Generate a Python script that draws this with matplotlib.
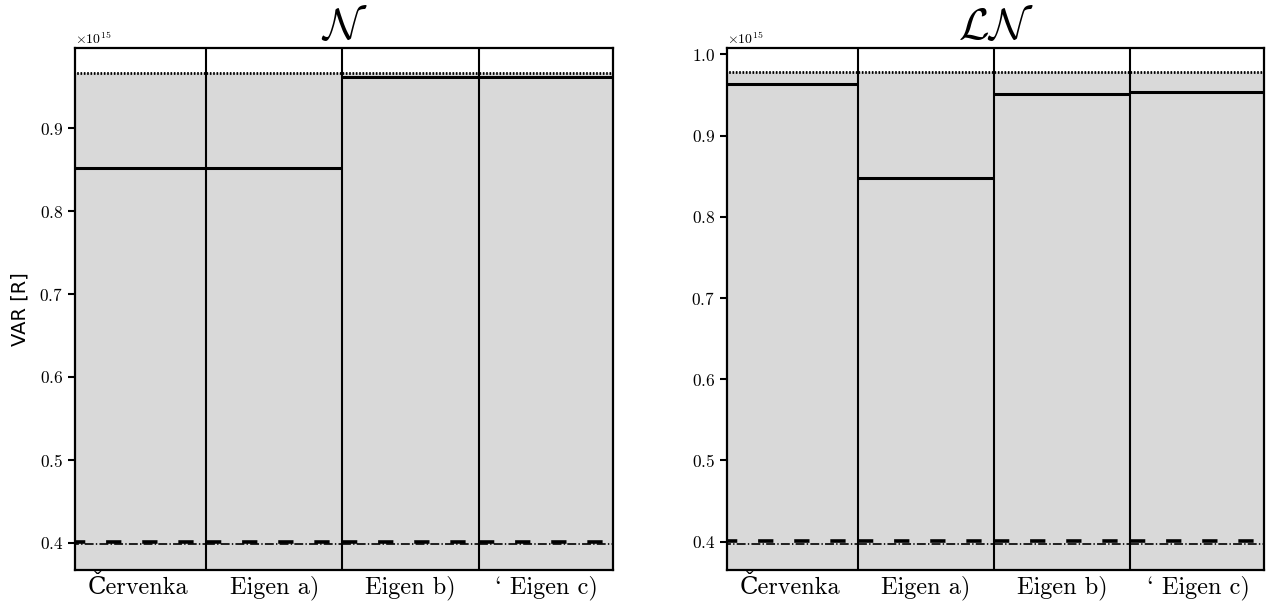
import numpy as np
import matplotlib
matplotlib.use("Agg")
import matplotlib.pyplot as plt
from matplotlib.ticker import MultipleLocator, ScalarFormatter

plt.rcParams['font.family'] = ['cmr10', 'DejaVu Serif']
plt.rcParams['mathtext.fontset'] = 'cm'
plt.rcParams['axes.formatter.use_mathtext'] = True
plt.rcParams['lines.scale_dashes'] = False

methods = ["Červenka", "Eigen a)", "Eigen b)", "` Eigen c)"]
scale = 1e15

# VAR estimates per method, and the bounds for each distribution
var_normal = [0.852, 0.852, 0.962, 0.962]
var_lognormal = [0.963, 0.848, 0.951, 0.953]
upper_normal = 0.967
upper_lognormal = 0.978
lower_normal = [0.4005, 0.3983]
lower_lognormal = [0.4006, 0.3977]

panels = [
    (r"$\mathcal{N}$", var_normal, upper_normal, lower_normal, (0.367, 0.9969)),
    (r"$\mathcal{LN}$", var_lognormal, upper_lognormal, lower_lognormal, (0.3652, 1.0078)),
]

fig = plt.figure(figsize=(12.66, 6.01), dpi=100)
ax_pos = [[0.0592, 0.0516, 0.4250, 0.8686],
          [0.5743, 0.0516, 0.4242, 0.8686]]

x = np.arange(len(methods))
for k, (title, vals, upper, lower, ylim) in enumerate(panels):
    ax = fig.add_axes(ax_pos[k])
    ax.bar(x, upper * scale, width=1.0, color='#d9d9d9', edgecolor='none', zorder=1)
    for i, v in enumerate(vals):
        ax.hlines(v * scale, i - 0.5, i + 0.5, color='black', lw=2.2, zorder=3)
        ax.hlines(upper * scale, i - 0.5, i + 0.5, color='black', lw=2.0,
                  linestyles=(0, (1.2, 1.2)), zorder=3)
        ax.hlines(lower[0] * scale, i - 0.5, i + 0.5, color='black', lw=2.6,
                  linestyles=(0, (11, 15)), zorder=3)
        ax.hlines(lower[1] * scale, i - 0.5, i + 0.5, color='black', lw=1.2,
                  linestyles='-.', zorder=3)
    for b in x[:-1] + 0.5:
        ax.axvline(b, color='black', lw=1.5, zorder=4)
    ax.set_xlim(-0.463, 3.485)
    ax.set_ylim(ylim[0] * scale, ylim[1] * scale)
    ax.yaxis.set_major_locator(MultipleLocator(0.1 * scale))
    fmt = ScalarFormatter(useMathText=True)
    fmt.set_powerlimits((15, 15))
    ax.yaxis.set_major_formatter(fmt)
    ax.set_xticks(x)
    ax.set_xticklabels(methods, fontsize=17.5)
    ax.tick_params(axis='x', length=0, pad=4)
    ax.tick_params(axis='y', length=5, width=1.5, labelsize=12.5)
    ax.yaxis.get_offset_text().set_fontsize(10)
    for s in ax.spines.values():
        s.set_linewidth(1.6)
    ax.set_title(title, fontsize=32, pad=0)
    if k == 0:
        ax.set_ylabel("VAR [R]", fontsize=14, family='DejaVu Sans', labelpad=7)

fig.savefig("out.png", dpi=100)
